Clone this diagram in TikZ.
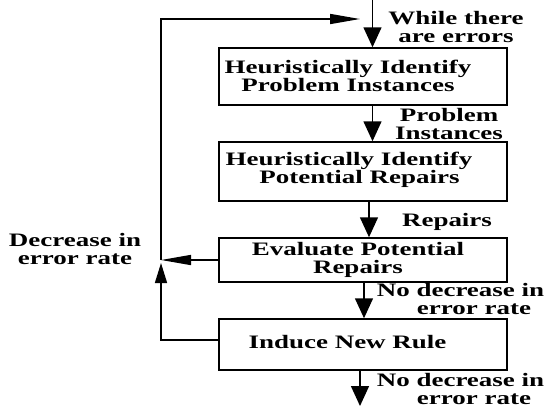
\documentclass[tikz,border=0pt]{standalone}
\usepackage{fontspec}
\setmainfont{Liberation Serif}[FakeStretch=1.42]
\usetikzlibrary{arrows.meta}
\begin{document}
\begin{tikzpicture}[x=1pt,y=-1pt,
  box/.style={draw,line width=1.5pt,minimum width=288pt,inner sep=0pt},
  txt/.style={font=\fontsize{19}{18}\selectfont\bfseries,align=center,inner sep=0pt},
  flow/.style={line width=1.5pt,-{Triangle[length=20pt,width=18pt]}},
  back/.style={line width=1.5pt,-{Triangle[length=30pt,width=10pt]}},
  upar/.style={line width=1.5pt,-{Triangle[length=20pt,width=12pt]}}]
\useasboundingbox (0,0) rectangle (546,408);
% boxes
\node[box,minimum height=57pt] (b1) at (363,76.5) {};
\node[box,minimum height=59pt] (b2) at (363,171.5) {};
\node[box,minimum height=44pt] (b3) at (363,260) {};
\node[box,minimum height=51pt] (b4) at (363,344.5) {};
% box texts
\node[txt] (t1) at (348,76) {Heuristically Identify\\Problem Instances};
\node[txt] (t2) at (349,170) {Heuristically Identify\\\hspace*{21pt}Potential Repairs};
\node[txt] (t3) at (358,259.5) {Evaluate Potential\\Repairs};
\node[txt] (t4) at (347.5,342) {Induce New Rule};
% labels
\node[txt] (l1) at (456,26.5) {While there\\are errors};
\node[txt] (l2) at (449,124) {Problem\\Instances};
\node[txt] (l3) at (447,221.5) {Repairs};
\node[txt] (l4) at (75,249) {Decrease in\\error rate};
\node[txt] (l5) at (460.5,299) {No decrease in\\\hspace*{27pt}error rate};
\node[txt] (l6) at (460.5,389) {No decrease in\\\hspace*{27pt}error rate};
% coordinates
\coordinate (in) at (372.5,0);
\coordinate (out) at (360,406);
\coordinate (j) at (161,260);
\coordinate (ty) at (0,19);
\coordinate (tip) at (360,19);
% main flow
\draw[flow] (in) -- (in |- b1.north);
\draw[flow] ([xshift=9.5pt]b1.south) -- ([xshift=9.5pt]b2.north);
\draw[flow] ([xshift=6pt]b2.south) -- ([xshift=6pt]b3.north);
\draw[flow] ([xshift=1pt]b3.south) -- ([xshift=1pt]b4.north);
\draw[flow] (b4.south -| out) -- (out);
% feedback
\draw[back] (b3.west) -- (j);
\draw[upar] ([yshift=4.5pt]b4.west) -| ([yshift=-3pt]j);
\draw[back] (j) -- (j |- ty) -- (tip);
\end{tikzpicture}
\end{document}
